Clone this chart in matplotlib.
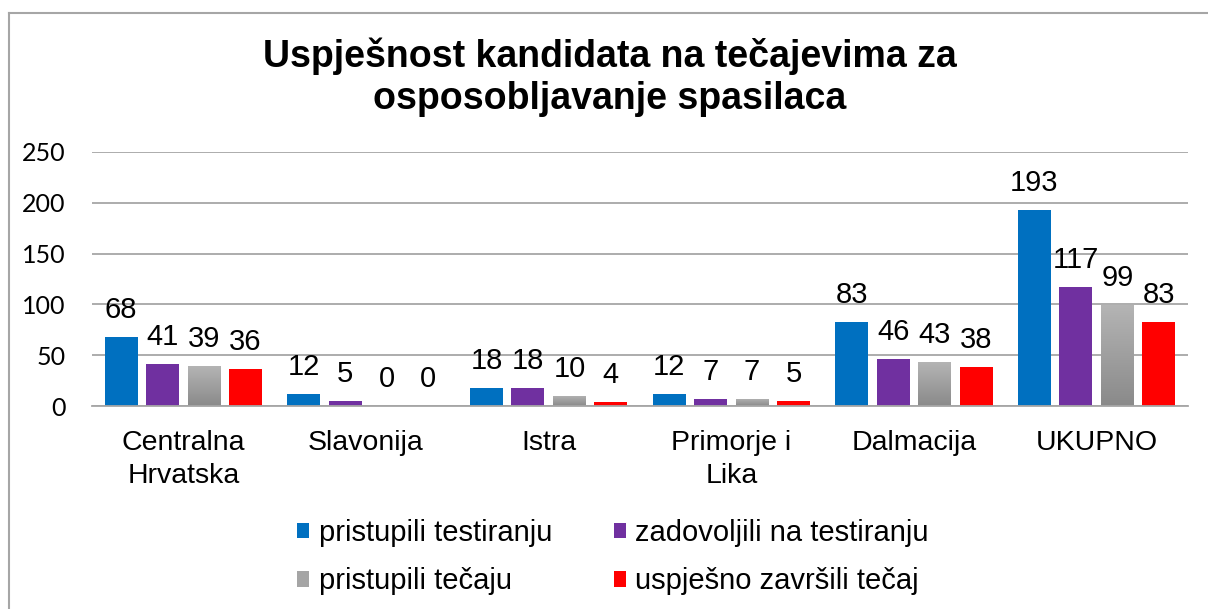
import numpy as np
import matplotlib
matplotlib.use('Agg')
import matplotlib.pyplot as plt
from matplotlib.patches import Patch
from matplotlib.lines import Line2D

# data
categories = ['Centralna\nHrvatska', 'Slavonija', 'Istra', 'Primorje i\nLika', 'Dalmacija', 'UKUPNO']
series_names = ['pristupili testiranju', 'zadovoljili na testiranju',
                'pristupili tečaju', 'uspješno završili tečaj']
pristupili_testiranju = [68, 12, 18, 12, 83, 193]
zadovoljili_testiranju = [41, 5, 18, 7, 46, 117]
pristupili_tecaju = [39, 0, 10, 7, 43, 99]
zavrsili_tecaj = [36, 0, 4, 5, 38, 83]
y_ticks = [0, 50, 100, 150, 200, 250]

series = [pristupili_testiranju, zadovoljili_testiranju, pristupili_tecaju, zavrsili_tecaj]
colors = ['#0070c0', '#7030a0', '#a5a5a5', '#ff0000']

W, H = 1208, 609
fig = plt.figure(figsize=(W / 100, H / 100), dpi=100)
ax = fig.add_axes([92 / W, 1 - 406 / H, (1188 - 92) / W, (406 - 152) / H])

x = np.arange(len(categories))
bw = 0.18
step = 0.227
grad = np.linspace(0, 1, 100).reshape(-1, 1)
grey_cmap = matplotlib.colors.LinearSegmentedColormap.from_list('g', ['#8a8a8a', '#b4b4b4'])

for i, vals in enumerate(series):
    pos = x + (i - 1.5) * step
    bars = ax.bar(pos, vals, bw, color=colors[i], zorder=2)
    if i == 2:
        # grey series has a vertical gradient
        for b, v in zip(bars, vals):
            b.set_facecolor('none')
            b.set_edgecolor('none')
            if v > 0:
                im = ax.imshow(grad, cmap=grey_cmap, origin='lower', aspect='auto',
                               extent=[b.get_x(), b.get_x() + bw, 0, v], zorder=2)
                im.set_clip_path(b)
    for p, v in zip(pos, vals):
        ax.annotate(str(v), (p, v), xytext=(0, 19.5), textcoords='offset points',
                    ha='center', va='center', fontsize=21, family='Liberation Sans')

ax.set_xlim(-0.5, 5.5)
ax.set_ylim(0, 250)
ax.set_yticks(y_ticks)
ax.set_xticks(x)
ax.set_xticklabels(categories, fontsize=20.5, family='Liberation Sans', linespacing=1.35)
for lab in ax.get_yticklabels():
    lab.set_family('Lato')
    lab.set_fontsize(18)
ax.tick_params(axis='y', length=0, pad=19)
ax.tick_params(axis='x', length=0, pad=17)
ax.grid(axis='y', color='#a6a6a6', lw=1.3, zorder=0)
ax.set_axisbelow(True)
for s in ['top', 'right', 'left']:
    ax.spines[s].set_visible(False)
ax.spines['bottom'].set_color('#a6a6a6')
ax.spines['bottom'].set_linewidth(1.3)

fig.text(610 / W, 1 - 77 / H, 'Uspješnost kandidata na tečajevima za\nosposobljavanje spasilaca',
         ha='center', va='center', fontsize=27, fontweight='bold', family='Liberation Sans',
         linespacing=1.2)

handles = [Patch(facecolor=c, edgecolor='none') for c in colors]
order = [0, 2, 1, 3]
fig.legend([handles[k] for k in order], [series_names[k] for k in order],
           ncol=2, loc='upper left', bbox_to_anchor=(297 / W, 1 - 519 / H),
           frameon=False, prop={'family': 'Liberation Sans', 'size': 21},
           handlelength=0.42, handleheight=0.42, handletextpad=0.33,
           columnspacing=2.1, labelspacing=0.7, borderpad=0, borderaxespad=0)

# chart border
fig.add_artist(Line2D([8.5 / W, 8.5 / W], [0, 1 - 12.5 / H], color='#a6a6a6', lw=1.5))
fig.add_artist(Line2D([8.5 / W, 1], [1 - 12.5 / H, 1 - 12.5 / H], color='#a6a6a6', lw=1.5))

fig.savefig('out.png', dpi=100)
